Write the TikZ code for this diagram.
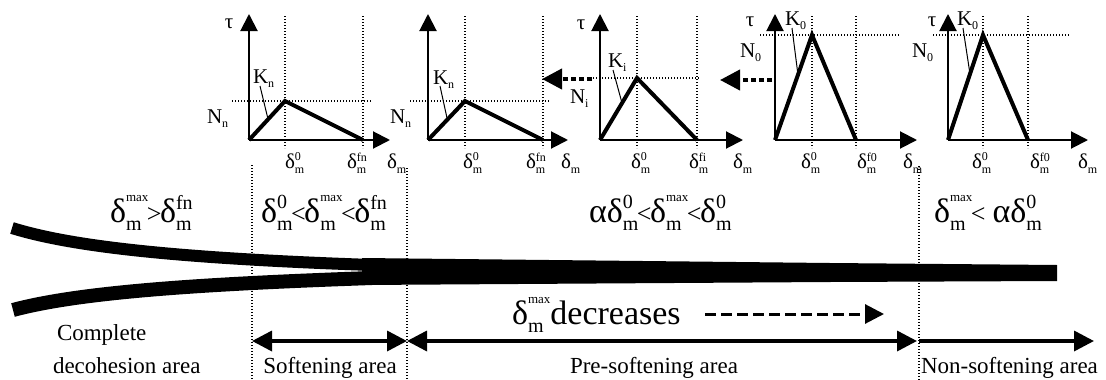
\documentclass[tikz,border=0pt]{standalone}
\usepackage{fontspec}
\setmainfont{Liberation Serif}
\usetikzlibrary{arrows.meta}

% stacked super/subscripts: #1 sup, #2 sup size, #3 sub, #4 sub size, #5 top of sup above baseline, #6 drop of sub
\newcommand{\scripts}[6]{%
  \setbox0=\hbox{\fontsize{#2}{#2}\selectfont #1}%
  \setbox2=\hbox{\fontsize{#4}{#4}\selectfont #3}%
  \ifdim\wd0>\wd2 \dimen0=\wd0 \else \dimen0=\wd2 \fi
  \dimen2=#5pt \advance\dimen2 by -\ht0
  \rlap{\raise\dimen2\copy0}\rlap{\lower#6pt\copy2}\hskip\dimen0\relax}
\newcommand{\Bd}[2]{δ\scripts{#1}{#2}{m}{20}{27}{8}}
\newcommand{\sd}[1]{δ\scripts{#1}{12}{m}{12}{15}{5}}
\newcommand{\lab}[2]{#1\scripts{}{12}{#2}{12}{0}{4}}
\newcommand{\cmpl}{\kern-1.5pt{\fontsize{26}{26}\selectfont <}\kern-1.5pt}
\newcommand{\cmpg}{\kern-1.5pt{\fontsize{26}{26}\selectfont >}\kern-1.5pt}

\newcommand{\tsgraph}[8]{%
  \coordinate (#1o) at (#2,140);
  \coordinate (#1t) at (#2,14);
  \coordinate (#1x) at (#6,140);
  \coordinate (#1p) at (#3,#4);
  \coordinate (#1f) at (#5,140);
  \draw[dots] (#3,16) -- (#3,148);
  \draw[dots] (#5,16) -- (#5,148);
  \draw[dots] (#7,#4) -- (#8,#4);
  \draw[axis] (#1o) -- (#1t);
  \draw[axis] (#1o) -- (#1x);
  \draw[law] (#1o) -- (#1p) -- (#1f);
}

\begin{document}
\begin{tikzpicture}[x=1pt,y=-1pt,
  axis/.style={line width=2pt,-{Triangle[length=17pt,width=17pt]}},
  dots/.style={line width=1.3pt,dash pattern=on 1.4pt off 1.6pt},
  law/.style={line width=4pt,line join=miter},
  lead/.style={line width=1pt},
  txt/.style={inner sep=0pt,outer sep=0pt,font=\fontsize{21}{21}\selectfont},
  big/.style={inner sep=0pt,outer sep=0pt,font=\fontsize{34}{34}\selectfont},
  lbl/.style={inner sep=0pt,outer sep=0pt,font=\fontsize{23}{23}\selectfont},
  thickdot/.style={line width=4pt,dash pattern=on 5pt off 3pt,-{Triangle[length=20pt,width=20pt]}},
  dasharrow/.style={line width=3pt,dash pattern=on 11pt off 5pt,-{Triangle[length=19pt,width=19pt]}},
  span/.style={line width=3.5pt},
  tip/.tip={Triangle[length=20pt,width=20pt]}]
\useasboundingbox (0,0) rectangle (1106,380);

% ---- graphs ----
\tsgraph{ga}{249}{285}{101}{363}{390}{232}{372}
\tsgraph{gb}{428}{465}{101}{543}{568}{410}{550}
\tsgraph{gc}{600}{637}{78}{697}{743}{590}{700}
\tsgraph{gd}{775}{812}{35}{856}{917}{760}{900}
\tsgraph{ge}{948}{983}{35}{1028}{1088}{933}{1070}

% axis labels
\node[txt,anchor=base] (tau1) at (229,28) {τ};
\node[txt,anchor=base] (tau3) at (581,29) {τ};
\node[txt,anchor=base] (tau4) at (750,27) {τ};
\node[txt,anchor=base] (tau5) at (932,27) {τ};

\node[txt,anchor=base west] (k1) at (253,83) {\lab{K}{n}};
\node[txt,anchor=base west] (k2) at (433,84) {\lab{K}{n}};
\node[txt,anchor=base west] (k3) at (608,67) {\lab{K}{i}};
\node[txt,anchor=base west] (k4) at (785,25) {\lab{K}{0}};
\node[txt,anchor=base west] (k5) at (957,25) {\lab{K}{0}};

\coordinate (l1a) at (260,86); \coordinate (l1b) at (268,119);
\coordinate (l2a) at (440,86); \coordinate (l2b) at (447,118);
\coordinate (l3a) at (613,70); \coordinate (l3b) at (622,103);
\coordinate (l4a) at (792,28); \coordinate (l4b) at (798,75);
\coordinate (l5a) at (963,28); \coordinate (l5b) at (970,74);
\draw[lead] (l1a) -- (l1b);
\draw[lead] (l2a) -- (l2b);
\draw[lead] (l3a) -- (l3b);
\draw[lead] (l4a) -- (l4b);
\draw[lead] (l5a) -- (l5b);

\node[txt,anchor=base west] (n1) at (207,123) {\lab{N}{n}};
\node[txt,anchor=base west] (n2) at (390,123) {\lab{N}{n}};
\node[txt,anchor=base west] (n3) at (570,103) {\lab{N}{i}};
\node[txt,anchor=base west] (n4) at (740,57) {\lab{N}{0}};
\node[txt,anchor=base west] (n5) at (912,57) {\lab{N}{0}};

% delta labels under axes
\node[txt,anchor=base] (d1a) at (290,168) {\sd{0}};
\node[txt,anchor=base] (d1b) at (352,168) {\sd{fn}};
\node[txt,anchor=base] (d1c) at (392,168) {\sd{}};
\node[txt,anchor=base] (d2a) at (468,168) {\sd{0}};
\node[txt,anchor=base] (d2b) at (531,168) {\sd{fn}};
\node[txt,anchor=base] (d2c) at (566,168) {\sd{}};
\node[txt,anchor=base] (d3a) at (636,168) {\sd{0}};
\node[txt,anchor=base] (d3b) at (694,168) {\sd{fi}};
\node[txt,anchor=base] (d3c) at (738,168) {\sd{}};
\node[txt,anchor=base] (d4a) at (806,168) {\sd{0}};
\node[txt,anchor=base] (d4b) at (862,168) {\sd{f0}};
\node[txt,anchor=base] (d4c) at (908,168) {\sd{}};
\node[txt,anchor=base] (d5a) at (977,168) {\sd{0}};
\node[txt,anchor=base] (d5b) at (1035,168) {\sd{f0}};
\node[txt,anchor=base] (d5c) at (1083,168) {\sd{}};

% thick dotted arrows between graphs
\coordinate (a1s) at (592,79); \coordinate (a1e) at (542,79);
\coordinate (a2s) at (772,80); \coordinate (a2e) at (720,80);
\draw[thickdot] (a1s) -- (a1e);
\draw[thickdot] (a2s) -- (a2e);

% ---- zone separators ----
\coordinate (v1t) at (252,165); \coordinate (v1b) at (252,380);
\coordinate (v2t) at (407,168); \coordinate (v2b) at (407,380);
\coordinate (v3t) at (919,166); \coordinate (v3b) at (919,380);
\draw[dots] (v1t) -- (v1b);
\draw[dots] (v2t) -- (v2b);
\draw[dots] (v3t) -- (v3b);

% ---- conditions ----
\node[big,anchor=base west] (c1) at (110,222) {\Bd{max}{13}\cmpg\Bd{fn}{20}};
\node[big,anchor=base west] (c2) at (261,222) {\Bd{0}{20}\cmpl\Bd{max}{13}\cmpl\Bd{fn}{20}};
\node[big,anchor=base west] (c3) at (589,222) {α\Bd{0}{20}\cmpl\Bd{max}{13}\cmpl\Bd{0}{20}};
\node[big,anchor=base west] (c4) at (934,222) {\Bd{max}{13}\cmpl\ α\Bd{0}{20}};

% ---- crack ----
\draw[line width=12pt] (12,228) .. controls (70,246) and (170,258) .. (372,265);
\draw[line width=14pt] (13,310) .. controls (80,292) and (200,284) .. (372,278);
\fill (362,258) -- (830,263) -- (1057,265) -- (1057,281) -- (830,282) -- (362,285) -- cycle;

% ---- decreases ----
\node[big,anchor=base west] (dec) at (512,324) {\Bd{max}{13}decreases};
\coordinate (ds) at (705,314); \coordinate (de) at (884,314);
\draw[dasharrow] (ds) -- (de);

% ---- area spans ----
\coordinate (s1) at (252,341); \coordinate (s2) at (407,341);
\coordinate (s3) at (917,341); \coordinate (s4) at (919,341); \coordinate (s5) at (1094,341);
\draw[span,{tip}-{tip}] (s1) -- (s2);
\draw[span,{tip}-{tip}] (s2) -- (s3);
\draw[span,-{tip}] (s4) -- (s5);

\node[lbl,anchor=base west] (cd1) at (57,340) {Complete};
\node[lbl,anchor=base west] (cd2) at (53,373) {decohesion area};
\node[lbl,anchor=base] (soft) at (330,373) {Softening area};
\node[lbl,anchor=base] (pre) at (654,373) {Pre-softening area};
\node[lbl,anchor=base west] (non) at (921,373) {Non-softening area};
\end{tikzpicture}
\end{document}
